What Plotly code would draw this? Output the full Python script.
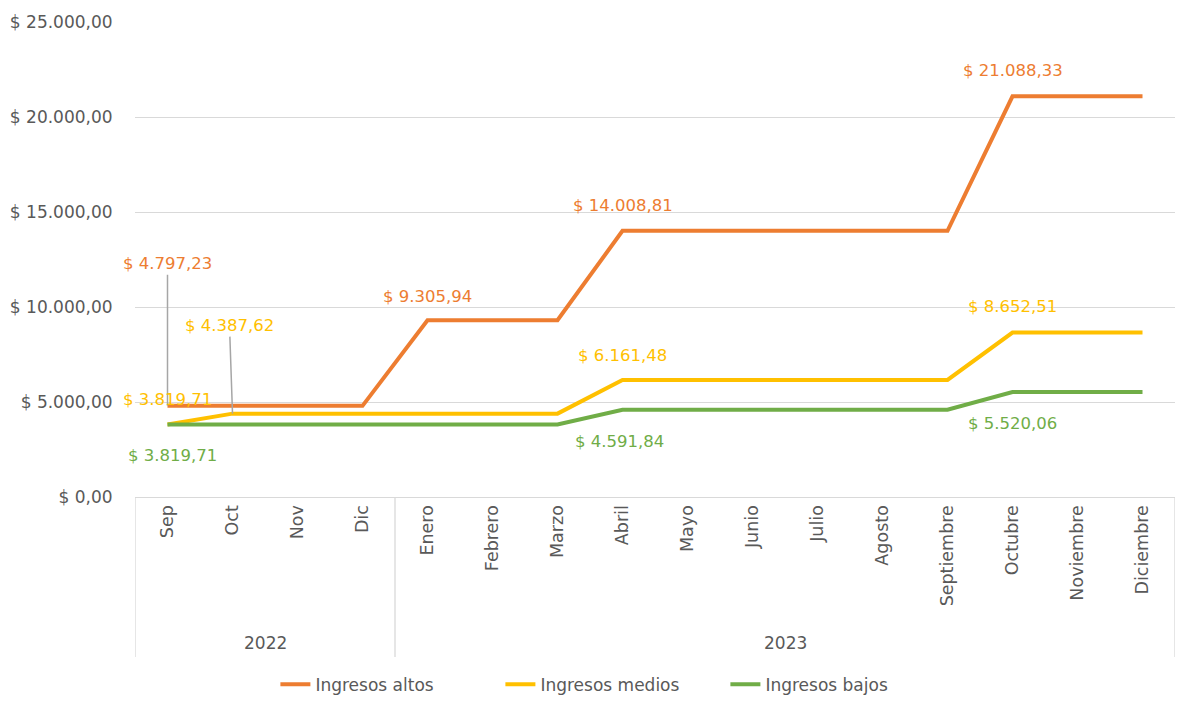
import plotly.graph_objects as go

months = ["Sep", "Oct", "Nov", "Dic", "Enero", "Febrero", "Marzo", "Abril", "Mayo",
          "Junio", "Julio", "Agosto", "Septiembre", "Octubre", "Noviembre", "Diciembre"]
years = ["2022", "2023"]
year_counts = [4, 12]

altos = [4797.23, 4797.23, 4797.23, 4797.23, 9305.94, 9305.94, 9305.94, 14008.81, 14008.81,
         14008.81, 14008.81, 14008.81, 14008.81, 21088.33, 21088.33, 21088.33]
medios = [3819.71, 4387.62, 4387.62, 4387.62, 4387.62, 4387.62, 4387.62, 6161.48, 6161.48,
          6161.48, 6161.48, 6161.48, 6161.48, 8652.51, 8652.51, 8652.51]
bajos = [3819.71, 3819.71, 3819.71, 3819.71, 3819.71, 3819.71, 3819.71, 4591.84, 4591.84,
         4591.84, 4591.84, 4591.84, 4591.84, 5520.06, 5520.06, 5520.06]

y_ticks = [0, 5000, 10000, 15000, 20000, 25000]
y_ticktext = ["$ 0,00", "$ 5.000,00", "$ 10.000,00", "$ 15.000,00", "$ 20.000,00", "$ 25.000,00"]

C_ALTO = "#ED7D31"
C_MED = "#FFC000"
C_BAJO = "#70AD47"
FONT = "DejaVu Sans"
GREY = "#595959"


def fmt(v):
    s = f"{v:,.2f}"
    s = s.replace(",", "X").replace(".", ",").replace("X", ".")
    return "$ " + s


x_idx = list(range(len(months)))

fig = go.Figure()
fig.add_trace(go.Scatter(x=x_idx, y=altos, mode="lines", name="Ingresos altos",
                         line=dict(color=C_ALTO, width=4)))
fig.add_trace(go.Scatter(x=x_idx, y=medios, mode="lines", name="Ingresos medios",
                         line=dict(color=C_MED, width=4)))
fig.add_trace(go.Scatter(x=x_idx, y=bajos, mode="lines", name="Ingresos bajos",
                         line=dict(color=C_BAJO, width=4)))

ann = []
lab_font = lambda c: dict(family=FONT, size=16.5, color=c)

# labels with leader lines
ann.append(dict(x=0, y=altos[0], xref="x", yref="y", text=fmt(altos[0]), showarrow=True,
                arrowhead=0, arrowwidth=1.5, arrowcolor="#A6A6A6", ax=0, ay=-142,
                font=lab_font(C_ALTO)))
ann.append(dict(x=1, y=medios[1], xref="x", yref="y", text=fmt(medios[1]), showarrow=True,
                arrowhead=0, arrowwidth=1.5, arrowcolor="#A6A6A6", ax=-3, ay=-88,
                font=lab_font(C_MED)))

# plain labels: (series, index, yshift, xshift, color)
plain = [
    (medios, 0, 25, 0, C_MED),
    (bajos, 0, -31, 5, C_BAJO),
    (altos, 4, 24, 0, C_ALTO),
    (altos, 7, 25, 0, C_ALTO),
    (altos, 13, 26, 0, C_ALTO),
    (medios, 7, 24, 0, C_MED),
    (medios, 13, 26, 0, C_MED),
    (bajos, 7, -32, -3, C_BAJO),
    (bajos, 13, -31, 0, C_BAJO),
]
for ser, i, ys, xs, c in plain:
    ann.append(dict(x=i, y=ser[i], xref="x", yref="y", text=fmt(ser[i]), showarrow=False,
                    yshift=ys, xshift=xs, font=lab_font(c)))

PLOT_H = 481  # 705 - 22 - 202

# year group labels and dividers
shapes = []
start = 0
bounds = [-0.5]
for yr, n in zip(years, year_counts):
    center = start + (n - 1) / 2
    ann.append(dict(x=center, y=-148 / PLOT_H, xref="x", yref="paper", text=yr,
                    showarrow=False, yanchor="middle",
                    font=dict(family=FONT, size=17, color=GREY)))
    start += n
    bounds.append(start - 0.5)
for b in bounds:
    shapes.append(dict(type="line", xref="x", yref="paper", x0=b, x1=b, y0=0,
                       y1=-162 / PLOT_H, line=dict(color="#D9D9D9", width=1.3)))

fig.update_layout(
    width=1178, height=705,
    margin=dict(l=135, r=3, t=22, b=202),
    paper_bgcolor="white", plot_bgcolor="white",
    font=dict(family=FONT, color=GREY),
    annotations=ann, shapes=shapes,
    showlegend=True,
    legend=dict(orientation="h", x=0.135, xanchor="left", y=-190 / PLOT_H, yanchor="middle",
                font=dict(family=FONT, size=17, color=GREY),
                entrywidth=180, entrywidthmode="pixels", tracegroupgap=0),
)
fig.update_xaxes(
    range=[-0.5, 15.5], tickmode="array", tickvals=x_idx, ticktext=months,
    tickangle=-90, tickfont=dict(family=FONT, size=17.5, color=GREY),
    showgrid=False, showline=True, linecolor="#D9D9D9", linewidth=1.3, ticks="",
    zeroline=False, automargin=False,
)
fig.update_yaxes(
    range=[0, 25000], tickmode="array", tickvals=y_ticks, ticktext=y_ticktext,
    tickfont=dict(family=FONT, size=17, color=GREY),
    showgrid=True, gridcolor="#D9D9D9", gridwidth=1.3, zeroline=False, showline=False,
    ticks="outside", ticklen=18, tickcolor="rgba(0,0,0,0)", automargin=False,
)

fig.write_html(
    "out.html",
    config={"displayModeBar": False},
    post_script=("document.documentElement.style.margin='0px';"
                 "document.documentElement.style.overflow='hidden';"
                 "document.body.style.margin='0px';"
                 "document.body.style.overflow='hidden';"),
)
